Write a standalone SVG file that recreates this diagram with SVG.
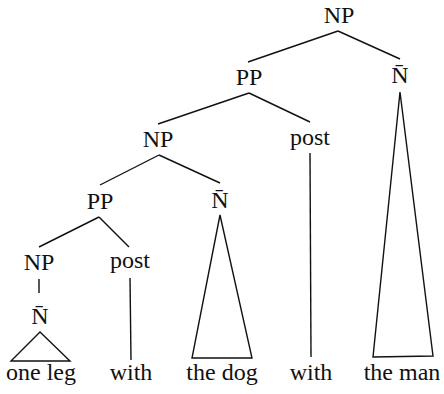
<svg xmlns="http://www.w3.org/2000/svg" width="444" height="394" viewBox="0 0 444 394">
  <style>
    text { font-family: "Liberation Serif", "DejaVu Serif", "Times New Roman", serif; font-size: 24px; fill: #111; text-anchor: middle; }
    .edge { stroke: #111; stroke-width: 1.4; fill: none; stroke-linejoin: miter; }
  </style>
  <rect width="444" height="394" fill="#fff"/>

  <!-- tree branches -->
  <g id="connectors">
    <path class="edge" d="M338,31 L248,62"/>
    <path class="edge" d="M338,31 L400,59"/>
    <path class="edge" d="M249,93 L158,124"/>
    <path class="edge" d="M249,93 L310,122"/>
    <path class="edge" d="M159,155 L100,185"/>
    <path class="edge" d="M159,155 L220,183"/>
    <path class="edge" d="M99,217 L39,247"/>
    <path class="edge" d="M99,217 L129,247"/>
    <path class="edge" d="M39,279 L39,293"/>
    <path class="edge" d="M310,153 L311,357"/>
    <path class="edge" d="M130,278 L131,360"/>
    <!-- triangles for unanalysed constituents -->
    <path class="edge" d="M400,92 L373,357 L433,356 Z"/>
    <path class="edge" d="M220,215 L192,358 L252,358 Z"/>
    <path class="edge" d="M40,332 L11,361 L70,361 Z"/>
  </g>

  <g id="np-root"><text x="339" y="23">NP</text></g>
  <g id="pp-upper"><text x="249" y="85">PP</text></g>
  <g id="nbar-right"><text x="400" y="83">N̄</text></g>
  <g id="np-mid"><text x="158" y="147">NP</text></g>
  <g id="post-mid"><text x="310" y="145">post</text></g>
  <g id="nbar-mid"><text x="220" y="208">N̄</text></g>
  <g id="pp-lower"><text x="100" y="209">PP</text></g>
  <g id="np-lower"><text x="39" y="270">NP</text></g>
  <g id="post-lower"><text x="130" y="268">post</text></g>
  <g id="nbar-lower"><text x="40" y="324">N̄</text></g>

  <g id="word-one-leg"><text x="41" y="380">one leg</text></g>
  <g id="word-with-1"><text x="131" y="380">with</text></g>
  <g id="word-the-dog"><text x="222" y="380">the dog</text></g>
  <g id="word-with-2"><text x="311" y="380">with</text></g>
  <g id="word-the-man"><text x="402" y="380">the man</text></g>
</svg>
